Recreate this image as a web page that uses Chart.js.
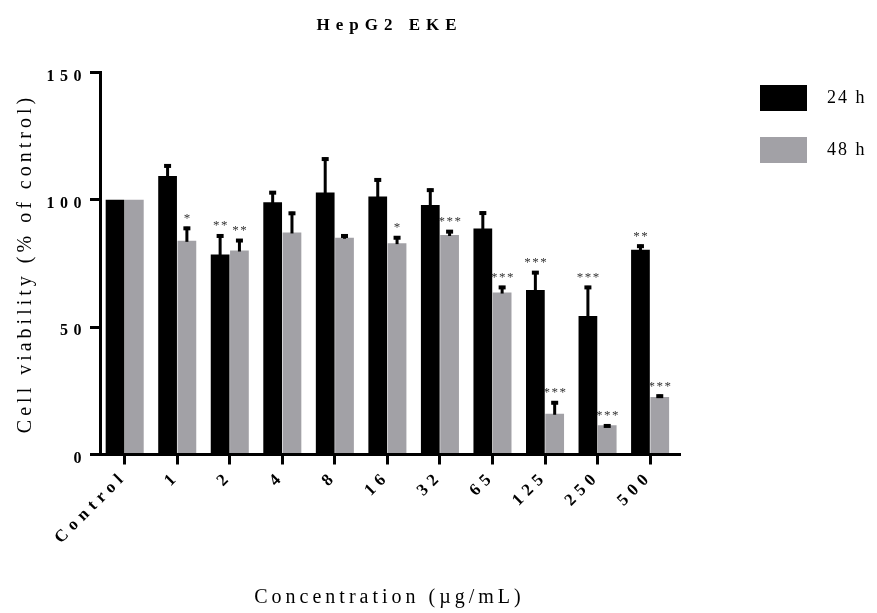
<!DOCTYPE html>
<html>
<head>
<meta charset="utf-8">
<script src="https://cdn.jsdelivr.net/npm/chart.js@4/dist/chart.umd.min.js"></script>
<style>
  html, body { margin: 0; padding: 0; background: #fff; }
  #wrap { width: 877px; height: 613px; }
</style>
</head>
<body>
<div id="wrap"><canvas id="c" width="877" height="613"></canvas></div>
<script>
// Concentrations tested (µg/mL)
const categories = ['Control', '1', '2', '4', '8', '16', '32', '65', '125', '250', '500'];
const seriesNames = ['24 h', '48 h'];

// Mean cell viability (% of control) and upper SD
const mean24 = [100, 109.4, 78.5, 99.1, 102.9, 101.3, 98.0, 88.7, 64.6, 54.4, 80.4];
const sd24   = [0,   4.5,   7.9,  4.3,  13.7,  7.1,   6.4,  6.7,  7.4,  11.8, 2.0];
const mean48 = [100, 83.9,  80.1, 87.2, 85.1,  83.0,  86.2, 63.6, 16.0, 11.5, 22.6];
const sd48   = [0,   5.5,   4.5,  8.1,  1.3,   2.7,   1.9,  2.6,  4.9,  0.3,  0.9];

// Significance versus control
const sig24 = ['', '', '**', '', '', '', '', '', '***', '***', '**'];
const sig48 = ['', '*', '**', '', '', '*', '***', '***', '***', '***', '***'];

const yTicks = [0, 50, 100, 150];

const SERIF = '"Liberation Serif", "DejaVu Serif", serif';
const BLACK = '#000000';
const GREY = '#a2a1a6';
const PLOT = { left: 100, top: 72.5, right: 679, bottom: 454.5 };

function spacedText(ctx, txt, x, y, font, spacing, align, baseline, color, rot) {
  ctx.save();
  ctx.font = font;
  ctx.letterSpacing = spacing + 'px';
  ctx.fillStyle = color || '#000';
  ctx.textAlign = align;
  ctx.textBaseline = baseline;
  ctx.translate(x, y);
  if (rot) ctx.rotate(rot);
  ctx.fillText(txt, 0, 0);
  ctx.restore();
}

const decor = {
  id: 'decor',
  beforeLayout(chart) { chart.ctx.letterSpacing = '5.5px'; },
  beforeDraw(chart) { chart.ctx.letterSpacing = '5.5px'; },
  afterDatasetsDraw(chart) {
    const ctx = chart.ctx;
    const ys = chart.scales.y;
    const sds = [sd24, sd48];
    const means = [mean24, mean48];
    const sigs = [sig24, sig48];
    ctx.save();
    for (let d = 0; d < 2; d++) {
      const meta = chart.getDatasetMeta(d);
      meta.data.forEach((bar, i) => {
        const sd = sds[d][i];
        const topVal = means[d][i] + sd;
        const pTop = ys.getPixelForValue(topVal);
        if (sd > 0) {
          ctx.fillStyle = BLACK;
          ctx.fillRect(bar.x - 1.5, pTop, 3, bar.y - pTop + 1);
          ctx.fillRect(bar.x - 3.5, pTop - 0.5, 7, 4);
        }
        const s = sigs[d][i];
        if (s) {
          spacedText(ctx, s, bar.x + 0.8, pTop - 5, '13px ' + SERIF, 1.5, 'center', 'alphabetic', '#333');
        }
      });
    }
    ctx.restore();
  },
  afterDraw(chart) {
    const ctx = chart.ctx;
    const ca = chart.chartArea;
    const cx = (ca.left + ca.right) / 2;
    // title
    spacedText(ctx, 'HepG2 EKE', cx, 30, 'bold 17px ' + SERIF, 6, 'center', 'alphabetic', '#000');
    // axis titles
    spacedText(ctx, 'Concentration (µg/mL)', cx, 598, '20px ' + SERIF, 4, 'center', 'middle', '#000');
    spacedText(ctx, 'Cell viability (% of control)', 26, (ca.top + ca.bottom) / 2, '20px ' + SERIF, 4, 'center', 'middle', '#000', -Math.PI / 2);
    // legend
    const colors = [BLACK, GREY];
    seriesNames.forEach((name, k) => {
      const y0 = 85 + k * 52;
      ctx.save();
      ctx.fillStyle = colors[k];
      ctx.fillRect(760, y0, 47, 26);
      ctx.restore();
      spacedText(ctx, name, 827, y0 + 13, '18px ' + SERIF, 2, 'left', 'middle', '#000');
    });
  }
};

const pad = { left: 0, top: 60, right: 190, bottom: 70 };

const chart = new Chart(document.getElementById('c'), {
  type: 'bar',
  data: {
    datasets: [
      {
        label: seriesNames[0],
        data: mean24.map((v, i) => ({ x: i, y: v })),
        backgroundColor: BLACK,
        categoryPercentage: 0.735,
        barPercentage: 0.97
      },
      {
        label: seriesNames[1],
        data: mean48.map((v, i) => ({ x: i, y: v })),
        backgroundColor: GREY,
        categoryPercentage: 0.735,
        barPercentage: 0.97
      }
    ]
  },
  options: {
    responsive: false,
    animation: false,
    devicePixelRatio: 1,
    layout: { padding: pad },
    plugins: {
      legend: { display: false },
      title: { display: false },
      tooltip: { enabled: false }
    },
    scales: {
      x: {
        type: 'linear',
        min: -0.47,
        max: 10.55,
        offset: false,
        z: 1,
        border: { display: true, color: BLACK, width: 3 },
        grid: { offset: false, drawOnChartArea: false, drawTicks: true, tickLength: 10, lineWidth: 3, color: BLACK },
        ticks: {
          stepSize: 1,
          includeBounds: false,
          autoSkip: false,
          maxRotation: 45,
          minRotation: 45,
          padding: 2,
          color: BLACK,
          font: { family: SERIF, size: 17, weight: 'bold' },
          callback: (v) => (Number.isInteger(v) ? categories[v] : '')
        }
      },
      y: {
        min: 0,
        max: 150,
        z: 1,
        border: { display: true, color: BLACK, width: 3 },
        grid: { drawOnChartArea: false, drawTicks: true, tickLength: 10, lineWidth: 3, color: BLACK },
        afterBuildTicks: (s) => { s.ticks = yTicks.map(v => ({ value: v })); },
        ticks: {
          padding: 3,
          labelOffset: 4,
          color: BLACK,
          font: { family: SERIF, size: 16, weight: 'bold' }
        }
      }
    }
  },
  plugins: [decor]
});

// pin the plot area to its intended frame
for (let k = 0; k < 3; k++) {
  const ca = chart.chartArea;
  pad.left = Math.max(0, pad.left + PLOT.left - ca.left);
  pad.top = Math.max(0, pad.top + PLOT.top - ca.top);
  pad.right = Math.max(0, pad.right + ca.right - PLOT.right);
  pad.bottom = Math.max(0, pad.bottom + ca.bottom - PLOT.bottom);
  chart.config.options.layout.padding = pad;
  chart.update();
}
</script>
</body>
</html>
